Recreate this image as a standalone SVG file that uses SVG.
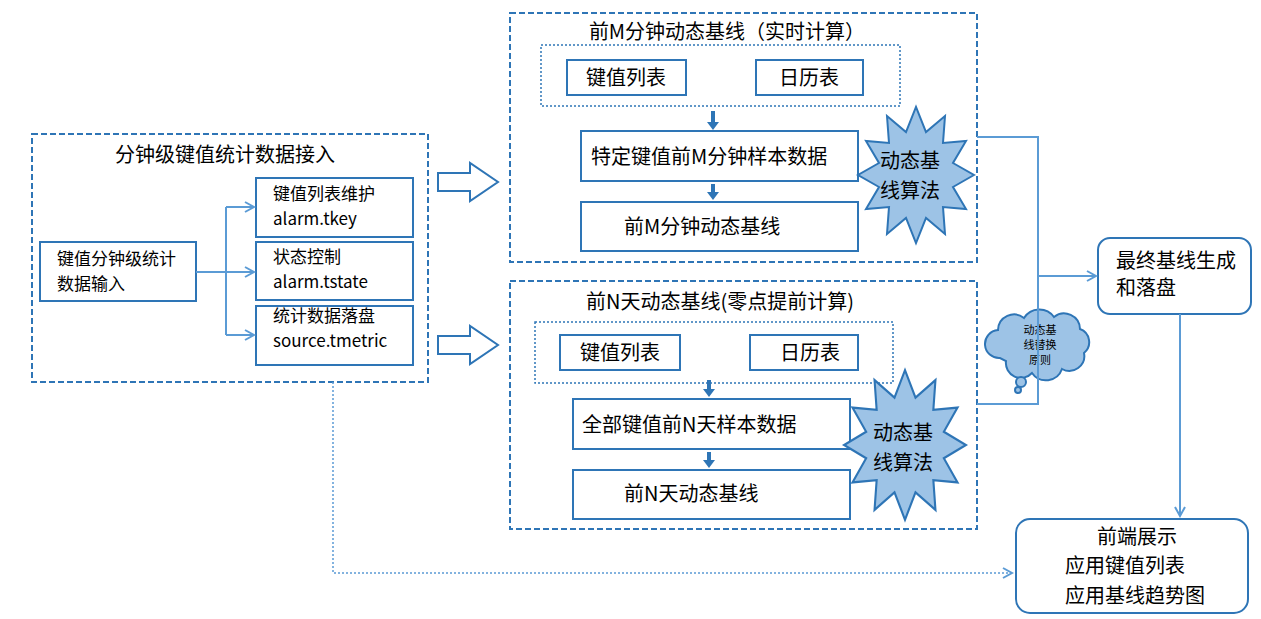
<svg xmlns="http://www.w3.org/2000/svg" width="1261" height="619" viewBox="0 0 1261 619">
<style>
text{font-family:"Microsoft YaHei","Noto Sans CJK SC","Liberation Sans",sans-serif;font-size:20px;fill:#000}
.dash{fill:#fff;stroke:#2e75b6;stroke-width:2;stroke-dasharray:6,3}
.dot{fill:none;stroke:#2e75b6;stroke-width:1.5;stroke-dasharray:2,2}
.box{fill:#fff;stroke:#2e75b6;stroke-width:2}
.conn{fill:none;stroke:#5b9bd5;stroke-width:2}
.star{fill:#9dc3e6;stroke:#2e75b6;stroke-width:2}
text.sm{font-size:17px}
text.tiny{font-size:11px}
</style>
<defs>
<marker id="ah" markerWidth="12" markerHeight="12" refX="10" refY="6" orient="auto" markerUnits="userSpaceOnUse"><path d="M1,1 L10,6 L1,11" fill="none" stroke="#5b9bd5" stroke-width="2"/></marker>
<path id="starp" d="M58,0 L37,12 L50,34 L27,32 L29,59 L10,43 L0,68 L-10,43 L-29,59 L-27,32 L-50,34 L-37,12 L-58,0 L-37,-12 L-50,-34 L-27,-32 L-29,-59 L-10,-43 L0,-68 L10,-43 L29,-59 L27,-32 L50,-34 L37,-12 Z"/>
</defs>
<rect width="1261" height="619" fill="#fff"/>
<g id="ingest">
<rect class="dash" x="32" y="134" width="396" height="248"/>
<text x="225" y="162" text-anchor="middle">分钟级键值统计数据接入</text>
</g>
<g id="input"><rect class="box" x="40" y="242" width="156" height="59"/><text class="sm" x="57" y="265">键值分钟级统计</text><text class="sm" x="57" y="290">数据输入</text></g>
<g id="tkey"><rect class="box" x="256" y="178" width="157" height="59"/><text class="sm" x="273" y="200">键值列表维护</text><text class="sm" x="273" y="225">alarm.tkey</text></g>
<g id="tstate"><rect class="box" x="256" y="242" width="157" height="58"/><text class="sm" x="273" y="263">状态控制</text><text class="sm" x="273" y="288">alarm.tstate</text></g>
<g id="tmetric"><rect class="box" x="256" y="306" width="157" height="59"/><text class="sm" x="273" y="322">统计数据落盘</text><text class="sm" x="273" y="347">source.tmetric</text></g>
<g id="barrow1"><path d="M438,173 H470 V163 L498,182 L470,201 V191 H438 Z" fill="#fff" stroke="#2e75b6" stroke-width="2"/></g>
<g id="barrow2"><path d="M438,336 H470 V326 L498,345 L470,364 V354 H438 Z" fill="#fff" stroke="#2e75b6" stroke-width="2"/></g>
<g id="realtime">
<rect class="dash" x="510" y="13" width="467" height="249"/>
<text x="727" y="39" text-anchor="middle">前M分钟动态基线（实时计算）</text>
<rect class="dot" x="541" y="45" width="359" height="61"/>
</g>
<g id="rt-keys"><rect class="box" x="567" y="60" width="119" height="35"/><text x="626" y="85" text-anchor="middle">键值列表</text></g>
<g id="rt-cal"><rect class="box" x="756" y="60" width="107" height="35"/><text x="809" y="85" text-anchor="middle">日历表</text></g>
<g id="rt-sample"><rect class="box" x="581" y="131" width="277" height="50"/><text x="591" y="164">特定键值前M分钟样本数据</text></g>
<g id="rt-base"><rect class="box" x="581" y="202" width="277" height="49"/><text x="624" y="234">前M分钟动态基线</text></g>
<g id="rt-algo"><use href="#starp" class="star" transform="translate(916,175)"/><text x="910" y="168" text-anchor="middle">动态基</text><text x="910" y="198" text-anchor="middle">线算法</text></g>
<g id="daily">
<rect class="dash" x="510" y="281" width="467" height="248"/>
<text x="720" y="309" text-anchor="middle">前N天动态基线(零点提前计算)</text>
<rect class="dot" x="535" y="322" width="358" height="61"/>
</g>
<g id="d-keys"><rect class="box" x="560" y="335" width="120" height="35"/><text x="620" y="360" text-anchor="middle">键值列表</text></g>
<g id="d-cal"><rect class="box" x="750" y="335" width="108" height="35"/><text x="810" y="360" text-anchor="middle">日历表</text></g>
<g id="d-sample"><rect class="box" x="573" y="399" width="277" height="50"/><text x="582" y="432">全部键值前N天样本数据</text></g>
<g id="d-base"><rect class="box" x="573" y="470" width="277" height="49"/><text x="624" y="501">前N天动态基线</text></g>
<g id="d-algo"><use href="#starp" class="star" transform="translate(905,445) scale(1.05,1.1)"/><text x="903" y="440" text-anchor="middle">动态基</text><text x="903" y="470" text-anchor="middle">线算法</text></g>
<g id="rule">
<path class="star" d="M1000,358 a14,14 0 0 1 -2,-28 a16,16 0 0 1 26,-12 a18,18 0 0 1 30,-1 a16,16 0 0 1 26,12 a14,14 0 0 1 4,24 a15,15 0 0 1 -22,16 a17,17 0 0 1 -30,4 a15,15 0 0 1 -26,-12 z" stroke-width="1.8"/>
<circle class="star" cx="1021" cy="382" r="5" stroke-width="1.5"/><circle class="star" cx="1018" cy="390" r="3" stroke-width="1.5"/>
<text class="tiny" x="1040" y="334" text-anchor="middle">动态基</text><text class="tiny" x="1040" y="349" text-anchor="middle">线替换</text><text class="tiny" x="1040" y="364" text-anchor="middle">原则</text>
</g>
<g id="final"><rect class="box" x="1098" y="238" width="153" height="76" rx="12"/><text x="1116" y="268">最终基线生成</text><text x="1116" y="295">和落盘</text></g>
<g id="frontend"><rect class="box" x="1016" y="519" width="232" height="94" rx="14"/><text x="1097" y="544">前端展示</text><text x="1065" y="573">应用键值列表</text><text x="1065" y="603">应用基线趋势图</text></g>
<g id="connectors">
<path class="conn" d="M196,272 H226"/>
<path class="conn" d="M226,207 V335"/>
<path class="conn" d="M226,207 H254" marker-end="url(#ah)"/>
<path class="conn" d="M226,272 H254" marker-end="url(#ah)"/>
<path class="conn" d="M226,335 H254" marker-end="url(#ah)"/>
<path d="M713,111 V123" stroke="#2e75b6" stroke-width="4"/><path d="M707,122 L719,122 L713,130 Z" fill="#2e75b6"/>
<path d="M713,184 V193" stroke="#2e75b6" stroke-width="4"/><path d="M707,192 L719,192 L713,200 Z" fill="#2e75b6"/>
<path d="M709,380 V390" stroke="#2e75b6" stroke-width="4"/><path d="M703,389 L715,389 L709,397 Z" fill="#2e75b6"/>
<path d="M709,452 V461" stroke="#2e75b6" stroke-width="4"/><path d="M703,460 L715,460 L709,468 Z" fill="#2e75b6"/>
<path class="conn" d="M977,137 H1038 V404 H977"/>
<path class="conn" d="M1038,276 H1096" marker-end="url(#ah)"/>
<path class="conn" d="M1180,314 V516" marker-end="url(#ah)"/>
<path d="M333,382 V573 H1012" fill="none" stroke="#5b9bd5" stroke-width="1.5" stroke-dasharray="2,2" marker-end="url(#ah)"/>
</g>
</svg>
